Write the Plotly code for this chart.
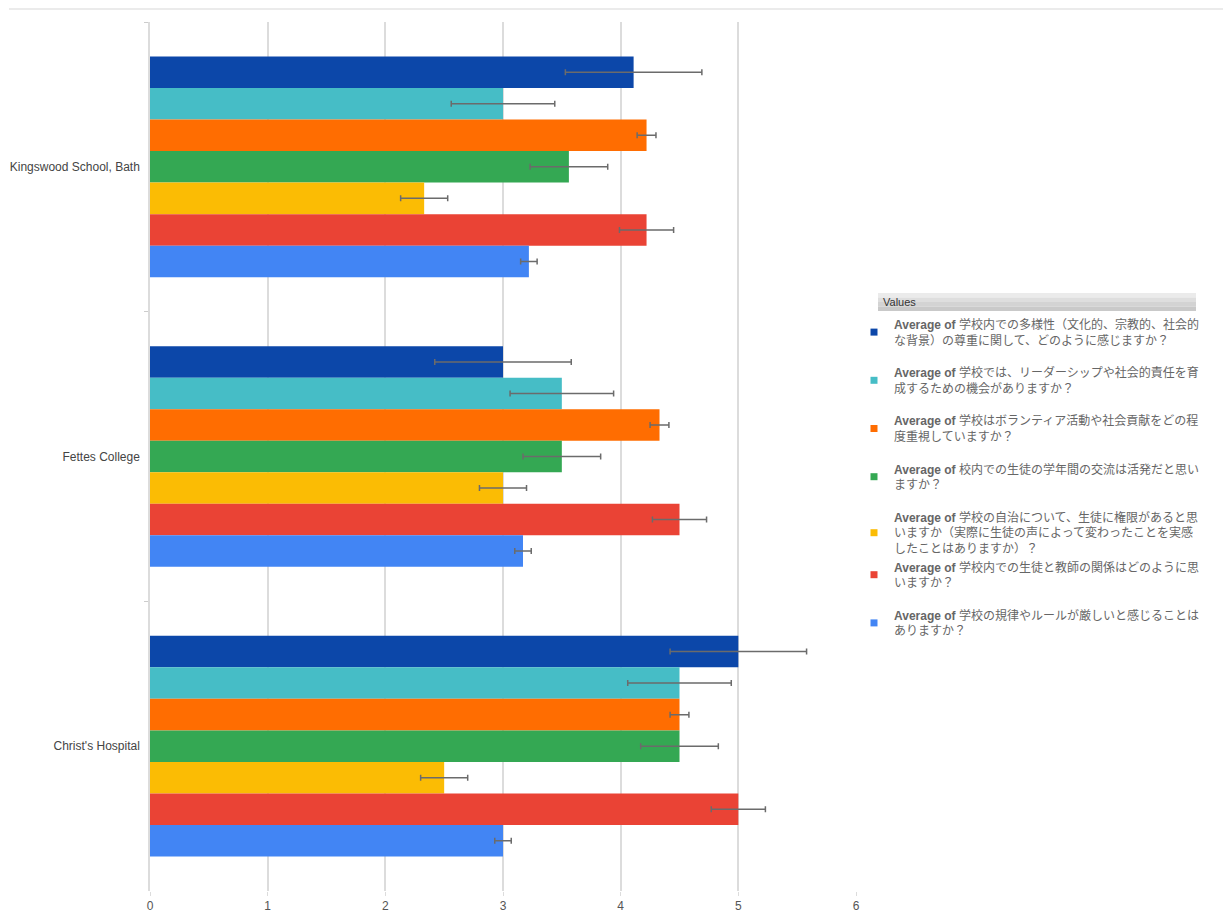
import plotly.graph_objects as go

schools = ["Kingswood School, Bath", "Fettes College", "Christ's Hospital"]

names = [
    "<b>Average of</b> 学校内での多様性（文化的、宗教的、社会的<br>な背景）の尊重に関して、どのように感じますか？",
    "<b>Average of</b> 学校では、リーダーシップや社会的責任を育<br>成するための機会がありますか？",
    "<b>Average of</b> 学校はボランティア活動や社会貢献をどの程<br>度重視していますか？",
    "<b>Average of</b> 校内での生徒の学年間の交流は活発だと思い<br>ますか？",
    "<b>Average of</b> 学校の自治について、生徒に権限があると思<br>いますか（実際に生徒の声によって変わったことを実感<br>したことはありますか）？",
    "<b>Average of</b> 学校内での生徒と教師の関係はどのように思<br>いますか？",
    "<b>Average of</b> 学校の規律やルールが厳しいと感じることは<br>ありますか？",
]

diversity = [4.11, 3.0, 5.0]
leadership = [3.0, 3.5, 4.5]
volunteer = [4.22, 4.33, 4.5]
interaction = [3.56, 3.5, 4.5]
autonomy = [2.33, 3.0, 2.5]
teacher = [4.22, 4.5, 5.0]
rules = [3.22, 3.17, 3.0]

diversity_err = [0.58, 0.58, 0.58]
leadership_err = [0.44, 0.44, 0.44]
volunteer_err = [0.08, 0.08, 0.08]
interaction_err = [0.33, 0.33, 0.33]
autonomy_err = [0.2, 0.2, 0.2]
teacher_err = [0.23, 0.23, 0.23]
rules_err = [0.07, 0.07, 0.07]

x_ticks = [0, 1, 2, 3, 4, 5, 6]

values = [diversity, leadership, volunteer, interaction, autonomy, teacher, rules]
errors = [diversity_err, leadership_err, volunteer_err, interaction_err, autonomy_err, teacher_err, rules_err]
colors = ["#0c47a9", "#46bdc6", "#ff6d01", "#34a853", "#fbbc04", "#ea4335", "#4285f4"]
groups = ["g1", "g2", "g3", "g4", "g5", "g5", "g7"]

FONT = "Arial, 'Liberation Sans', 'Noto Sans CJK JP', sans-serif"

fig = go.Figure()
for name, v, e, c, g in zip(names, values, errors, colors, groups):
    fig.add_trace(go.Bar(
        y=schools, x=v, orientation="h", name=name,
        marker=dict(color=c, line=dict(width=0)),
        legendgroup=g, showlegend=False,
        error_x=dict(type="data", array=e, visible=True, color="#6b6b6b", thickness=1.5, width=3),
    ))
# legend entries with small square keys
for name, c, g in zip(names, colors, groups):
    fig.add_trace(go.Scatter(
        x=[None], y=[None], mode="markers", name=name, legendgroup=g,
        marker=dict(symbol="square", size=7, color=c), hoverinfo="skip",
    ))

OFF = 8  # page body margin
W, H = 1223, 909
L = 150 - OFF
T = 22 - OFF
R = W - (856 - OFF)
B = H - (891 - OFF)
pw = W - L - R
ph = H - T - B

def px(xs):
    return (xs - OFF - L) / pw

def py(ys):
    return (H - B - (ys - OFF)) / ph

shapes = [dict(type="line", xref="paper", yref="paper", x0=px(9), x1=px(1231), y0=py(9), y1=py(9),
               line=dict(color="#ebebeb", width=2))]
band_cols = ["#ebebeb", "#dedede", "#d3d3d3", "#c9c9c9"]
top, bot = 293, 311
step = (bot - top) / len(band_cols)
for i, bc in enumerate(band_cols):
    shapes.append(dict(type="rect", xref="paper", yref="paper", x0=px(878), x1=px(1196),
                       y0=py(top + (i + 1) * step), y1=py(top + i * step),
                       fillcolor=bc, line=dict(width=0), layer="below"))

fig.update_layout(
    width=W, height=H,
    margin=dict(l=L, r=R, t=T, b=B, autoexpand=False),
    paper_bgcolor="white", plot_bgcolor="white",
    barmode="group", bargap=0.238, bargroupgap=0,
    font=dict(family=FONT, size=12, color="#555555"),
    xaxis=dict(range=[0, 6], tickvals=x_ticks, showgrid=True, gridcolor="#dcdcdc", gridwidth=1.5,
               zeroline=False, ticks="outside", ticklen=4, tickcolor="#dcdcdc",
               tickfont=dict(size=12, color="#555555"), showline=False, automargin=False),
    yaxis=dict(type="category", autorange="reversed", showgrid=False, zeroline=False,
               showline=True, linecolor="#dcdcdc", linewidth=1.5,
               ticks="outside", tickson="boundaries", ticklen=4, tickcolor="#cccccc",
               ticklabelstandoff=6, automargin=False,
               tickfont=dict(size=12, color="#444444")),
    legend=dict(x=px(854), y=py(310), xanchor="left", yanchor="top",
                font=dict(size=12, color="#666666", family=FONT),
                tracegroupgap=14, traceorder="grouped", bgcolor="rgba(0,0,0,0)"),
    shapes=shapes,
    annotations=[dict(text="Values", xref="paper", yref="paper", x=px(881), y=py(302),
                      xanchor="left", yanchor="middle", showarrow=False,
                      font=dict(size=11, color="#333333", family=FONT))],
)

fig.write_html("out.html")
